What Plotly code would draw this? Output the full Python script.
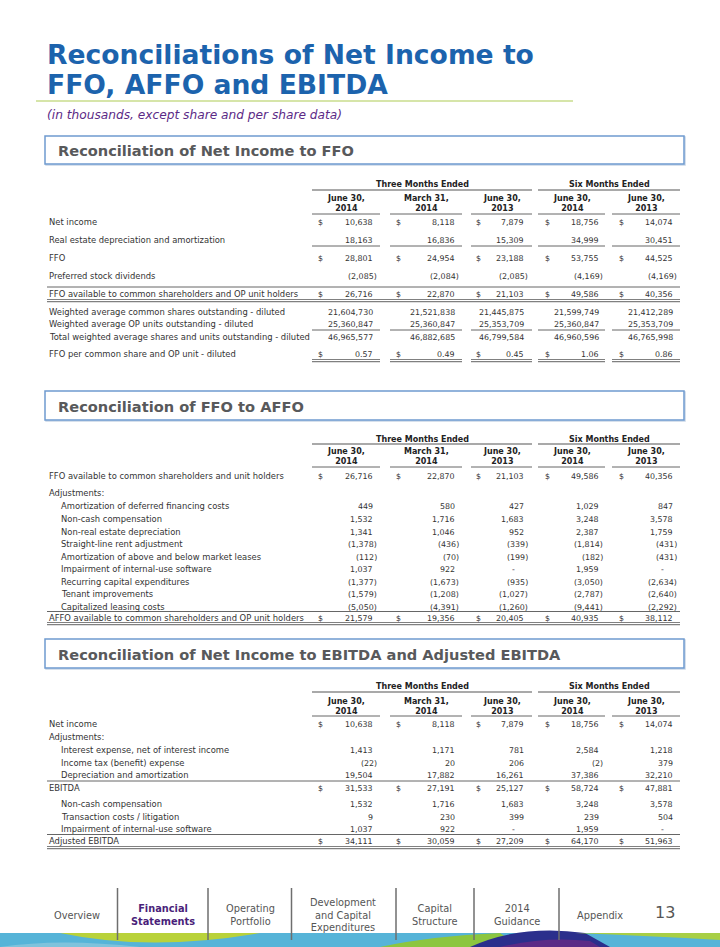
import plotly.graph_objects as go

W, H = 720, 947

# ---------------- data ----------------
group_headers = ["Three Months Ended", "Six Months Ended"]
period_headers = ["June 30,<br>2014", "March 31,<br>2014", "June 30,<br>2013",
                  "June 30,<br>2014", "June 30,<br>2013"]

# Reconciliation of Net Income to FFO
net_income = [10638, 8118, 7879, 18756, 14074]
re_depreciation = [18163, 16836, 15309, 34999, 30451]
ffo = [28801, 24954, 23188, 53755, 44525]
preferred_dividends = [-2085, -2084, -2085, -4169, -4169]
ffo_available = [26716, 22870, 21103, 49586, 40356]
wa_common_shares = [21604730, 21521838, 21445875, 21599749, 21412289]
wa_op_units = [25360847, 25360847, 25353709, 25360847, 25353709]
wa_total = [46965577, 46882685, 46799584, 46960596, 46765998]
ffo_per_share = [0.57, 0.49, 0.45, 1.06, 0.86]

# Reconciliation of FFO to AFFO
amort_deferred_financing = [449, 580, 427, 1029, 847]
non_cash_comp = [1532, 1716, 1683, 3248, 3578]
non_re_depreciation = [1341, 1046, 952, 2387, 1759]
straight_line_rent = [-1378, -436, -339, -1814, -431]
amort_market_leases = [-112, -70, -199, -182, -431]
impairment_software = [1037, 922, None, 1959, None]
recurring_capex = [-1377, -1673, -935, -3050, -2634]
tenant_improvements = [-1579, -1208, -1027, -2787, -2640]
capitalized_leasing = [-5050, -4391, -1260, -9441, -2292]
affo_available = [21579, 19356, 20405, 40935, 38112]

# Reconciliation of Net Income to EBITDA and Adjusted EBITDA
interest_expense = [1413, 1171, 781, 2584, 1218]
income_tax = [-22, 20, 206, -2, 379]
depreciation_amort = [19504, 17882, 16261, 37386, 32210]
ebitda = [31533, 27191, 25127, 58724, 47881]
transaction_costs = [9, 230, 399, 239, 504]
adjusted_ebitda = [34111, 30059, 27209, 64170, 51963]

nav_items = ["Overview", "Financial<br>Statements", "Operating<br>Portfolio",
             "Development<br>and Capital<br>Expenditures", "Capital<br>Structure",
             "2014<br>Guidance", "Appendix"]
page_number = "13"

# ---------------- layout constants ----------------
FONT = "DejaVu Sans"
TXT = "#333333"
RULE = "#666666"
DBL = "#808080"
LBL_SIZE = 8.4
NUM_SIZE = 7.9
LBL_X = 47
IND_X = 59
COL_SEG = [(312, 380), (390, 462), (471, 532), (538, 605), (612, 680)]
COL_CENTER = [346, 426, 502, 572, 646]
DOLLAR_X = [320, 398, 478, 547, 621]
VAL_R = [375, 457, 526, 601, 675]
GROUP_SEG = [(312, 532), (538, 680)]
GROUP_CENTER = [422, 609]

annotations = []
shapes = []


def fmt(v, dec=0):
    if v is None:
        return "-"
    s = f"{abs(v):,.{dec}f}"
    return f"({s})" if v < 0 else s


def text(x, y, s, size=LBL_SIZE, color=TXT, anchor="left", bold=False, italic=False,
         family=FONT, yanchor="middle"):
    if bold:
        s = f"<b>{s}</b>"
    if italic:
        s = f"<i>{s}</i>"
    annotations.append(dict(x=x, y=y, xref="x", yref="y", text=s, showarrow=False,
                            xanchor=anchor, yanchor=yanchor,
                            font=dict(family=family, size=size, color=color)))


def hline(x0, x1, y, color=RULE, width=1):
    shapes.append(dict(type="line", xref="x", yref="y", x0=x0, x1=x1, y0=y, y1=y,
                       line=dict(color=color, width=width)))


def col_lines(y, color=RULE, width=1):
    for a, b in COL_SEG:
        hline(a, b, y, color, width)


def double_full(y):
    hline(LBL_X, 680, y, DBL, 1.2)
    hline(LBL_X, 680, y + 2.2, DBL, 1.2)


def double_cols(y):
    for a, b in COL_SEG:
        hline(a, b, y, DBL, 1.2)
        hline(a, b, y + 2.2, DBL, 1.2)


def section_box(y0, y1, title):
    shapes.append(dict(type="rect", xref="x", yref="y", x0=46, x1=685, y0=y0 + 1, y1=y1 + 1,
                       line=dict(color="#c9d6e6", width=1.5), fillcolor="rgba(0,0,0,0)"))
    shapes.append(dict(type="rect", xref="x", yref="y", x0=45, x1=684, y0=y0, y1=y1,
                       line=dict(color="#6f9bcf", width=1.5), fillcolor="white"))
    text(56, (y0 + y1) / 2 + 0.5, title, size=14.6, color="#58595b", bold=True)


def headers(y_group, y_gline, y_head, y_uline):
    for g, cx in zip(group_headers, GROUP_CENTER):
        text(cx, y_group, g, size=8, color="#222222", anchor="center", bold=True)
    for a, b in GROUP_SEG:
        hline(a, b, y_gline, "#555555", 1.2)
    for h, cx in zip(period_headers, COL_CENTER):
        text(cx, y_head, h, size=8, color="#222222", anchor="center", bold=True)
    col_lines(y_uline)


def row(y, label, values=None, indent=False, dollar=False, dec=0):
    text(IND_X if indent else LBL_X, y, label)
    if values is None:
        return
    for i, v in enumerate(values):
        if dollar:
            text(DOLLAR_X[i], y, "$", size=NUM_SIZE, anchor="center")
        if v is None:
            text(VAL_R[i] - 13, y, "-", size=NUM_SIZE, anchor="center")
        elif v < 0:
            text(VAL_R[i] + 3.8, y, fmt(v, dec), size=NUM_SIZE, anchor="right")
        else:
            text(VAL_R[i], y, fmt(v, dec), size=NUM_SIZE, anchor="right")


# ---------------- title ----------------
text(45, 54, "Reconciliations of Net Income to", size=26.6, color="#1c63ad", bold=True)
text(45, 84, "FFO, AFFO and EBITDA", size=26.6, color="#1c63ad", bold=True)
hline(36, 573, 101, "#c8dc8c", 1.5)
text(45, 115, "(in thousands, except share and per share data)", size=12.2,
     color="#5b2a86", italic=True)

# ---------------- table 1 ----------------
section_box(136, 164, "Reconciliation of Net Income to FFO")
headers(184, 190, 203.5, 214)
row(222, "Net income", net_income, dollar=True)
row(240, "Real estate depreciation and amortization", re_depreciation)
col_lines(246)
row(258, "FFO", ffo, dollar=True)
row(276, "Preferred stock dividends", preferred_dividends)
hline(LBL_X, 680, 287)
row(294, "FFO available to common shareholders and OP unit holders", ffo_available, dollar=True)
double_full(299.5)
row(312, "Weighted average common shares outstanding - diluted", wa_common_shares)
row(324, "Weighted average OP units outstanding - diluted", wa_op_units)
col_lines(330)
row(337, "Total weighted average shares and units outstanding - diluted", wa_total)
row(354, "FFO per common share and OP unit - diluted", ffo_per_share, dollar=True, dec=2)
double_cols(359.5)

# ---------------- table 2 ----------------
section_box(391, 420, "Reconciliation of FFO to AFFO")
headers(439, 444, 456.5, 467)
row(476, "FFO available to common shareholders and unit holders", ffo_available, dollar=True)
row(493, "Adjustments:")
row(506, "Amortization of deferred financing costs", amort_deferred_financing, indent=True)
row(519, "Non-cash compensation", non_cash_comp, indent=True)
row(532, "Non-real estate depreciation", non_re_depreciation, indent=True)
row(544, "Straight-line rent adjustment", straight_line_rent, indent=True)
row(557, "Amortization of above and below market leases", amort_market_leases, indent=True)
row(569, "Impairment of internal-use software", impairment_software, indent=True)
row(582, "Recurring capital expenditures", recurring_capex, indent=True)
row(594, "Tenant improvements", tenant_improvements, indent=True)
row(607, "Capitalized leasing costs", capitalized_leasing, indent=True)
hline(LBL_X, 680, 611.5)
row(618, "AFFO available to common shareholders and OP unit holders", affo_available, dollar=True)
double_full(622.5)

# ---------------- table 3 ----------------
section_box(639, 668, "Reconciliation of Net Income to EBITDA and Adjusted EBITDA")
headers(686, 692, 706.5, 716)
row(724, "Net income", net_income, dollar=True)
row(737, "Adjustments:")
row(750, "Interest expense, net of interest income", interest_expense, indent=True)
row(763, "Income tax (benefit) expense", income_tax, indent=True)
row(775, "Depreciation and amortization", depreciation_amort, indent=True)
hline(LBL_X, 680, 781)
row(788, "EBITDA", ebitda, dollar=True)
row(804, "Non-cash compensation", non_cash_comp, indent=True)
row(817, "Transaction costs / litigation", transaction_costs, indent=True)
row(829, "Impairment of internal-use software", impairment_software, indent=True)
hline(LBL_X, 680, 834.5)
row(841, "Adjusted EBITDA", adjusted_ebitda, dollar=True)
double_full(846.5)

# ---------------- footer band ----------------
shapes.append(dict(type="rect", xref="x", yref="y", x0=0, x1=720, y0=933, y1=947,
                   line=dict(width=0), fillcolor="#56b4d8", layer="below"))
band_paths = [
    ("M 60 933 Q 150 952 260 933 Z", "#b9d23a"),
    ("M 0 947 Q 60 938 140 947 Z", "#7fc3dc"),
    ("M 380 947 Q 430 936 500 933 L 520 947 Z", "#8cc63f"),
    ("M 470 947 Q 520 924 585 933 L 610 947 Z", "#2b2f8c"),
    ("M 500 947 Q 545 936 590 941 L 600 947 Z", "#5b2a86"),
    ("M 575 933 L 720 933 L 720 940 Q 650 936 575 933 Z", "#a8cf45"),
]
for p, c in band_paths:
    shapes.append(dict(type="path", xref="x", yref="y", path=p, line=dict(width=0),
                       fillcolor=c, layer="below"))

for x in [117.5, 208, 291.5, 396, 474, 559]:
    shapes.append(dict(type="line", xref="x", yref="y", x0=x, x1=x, y0=888, y1=940,
                       line=dict(color="#6e6e6e", width=1.5)))

nav_x = [77, 163, 250, 343, 435, 516.5, 600]
for i, (lab, x) in enumerate(zip(nav_items, nav_x)):
    if i == 1:
        text(x, 915, lab, size=9.8, color="#4a1f7a", anchor="center", bold=True)
    else:
        text(x, 915, lab, size=9.8, color="#555555", anchor="center")
text(665, 912, page_number, size=16, color="#555555", anchor="center")

fig = go.Figure()
fig.update_layout(
    width=W, height=H, margin=dict(l=0, r=0, t=0, b=0),
    paper_bgcolor="white", plot_bgcolor="white",
    xaxis=dict(range=[0, W], visible=False, fixedrange=True),
    yaxis=dict(range=[H, 0], visible=False, fixedrange=True),
    annotations=annotations, shapes=shapes, showlegend=False,
)
fig.write_html("out.html", config={"displayModeBar": False},
               post_script="document.body.style.margin='0';document.body.style.overflow='hidden';")
